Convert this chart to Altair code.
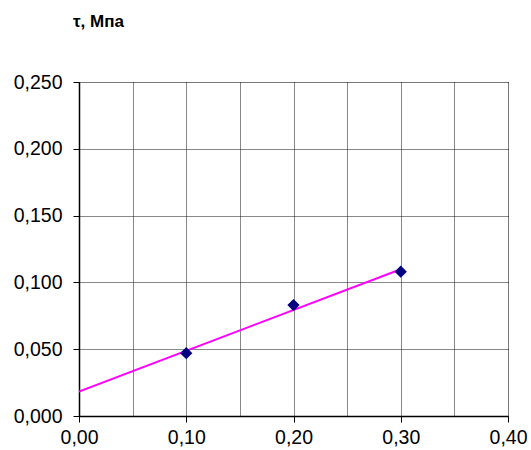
import altair as alt
import pandas as pd

# Data
sigma = [0.10, 0.20, 0.30]
tau = [0.047, 0.083, 0.108]

x_grid = [0.0, 0.05, 0.10, 0.15, 0.20, 0.25, 0.30, 0.35, 0.40]
y_grid = [0.0, 0.025, 0.05, 0.075, 0.10, 0.125, 0.15, 0.175, 0.20, 0.225, 0.25]

df = pd.DataFrame({"sigma": sigma, "tau": tau})

FONT = "Liberation Sans"
LS = 19.5

x_axis = alt.Axis(
    values=x_grid,
    grid=True, gridColor="#111111", gridDash=[1, 1], gridWidth=1,
    domainColor="black", domainWidth=1.5,
    tickColor="black", tickSize=6, tickWidth=1,
    tickOpacity={"condition": {"test": "round(datum.value*1000) % 100 == 0", "value": 1}, "value": 0},
    labelExpr="round(datum.value*1000) % 100 == 0 ? replace(format(datum.value, '.2f'), '.', ',') : ''",
    labelFont=FONT, labelFontSize=LS, labelColor="black", labelPadding=6,
    labelFlush=False, labelOverlap=False, title=None,
)
y_axis = alt.Axis(
    values=y_grid,
    grid=True, gridColor="#111111", gridDash=[1, 1], gridWidth=1,
    domainColor="black", domainWidth=1.5,
    tickColor="black", tickSize=6, tickWidth=1,
    tickOpacity={"condition": {"test": "round(datum.value*1000) % 50 == 0", "value": 1}, "value": 0},
    labelExpr="round(datum.value*1000) % 50 == 0 ? replace(format(datum.value, '.3f'), '.', ',') : ''",
    labelFont=FONT, labelFontSize=LS, labelColor="black", labelPadding=11,
    labelFlush=False, labelOverlap=False, title=None,
)

xs = alt.Scale(domain=[0, 0.4], nice=False, zero=False)
ys = alt.Scale(domain=[0, 0.25], nice=False, zero=False)

base = alt.Chart(df)

line = base.transform_regression(
    "sigma", "tau", method="linear", extent=[0, 0.3]
).mark_line(color="#FF00FF", strokeWidth=2, clip=True).encode(
    x=alt.X("sigma:Q", scale=xs, axis=x_axis),
    y=alt.Y("tau:Q", scale=ys, axis=y_axis),
)

points = base.mark_point(shape="diamond", filled=True, color="#000080", size=150, opacity=1).encode(
    x=alt.X("sigma:Q", scale=xs),
    y=alt.Y("tau:Q", scale=ys),
)

chart = alt.layer(line, points).properties(
    width=429,
    height=334,
    title=alt.TitleParams(
        "τ, Мпа", anchor="start", frame="group", font=FONT, fontSize=17,
        fontWeight="bold", color="black", dx=-6, baseline="alphabetic", offset=28,
    ),
    autosize=alt.AutoSizeParams(type="none"),
    padding={"left": 79, "top": 82, "right": 23, "bottom": 34},
).configure_view(
    stroke="#8a8a8a", strokeWidth=2
).configure(background="white")

chart.save("out.html", embed_options={"renderer": "svg", "actions": False})
